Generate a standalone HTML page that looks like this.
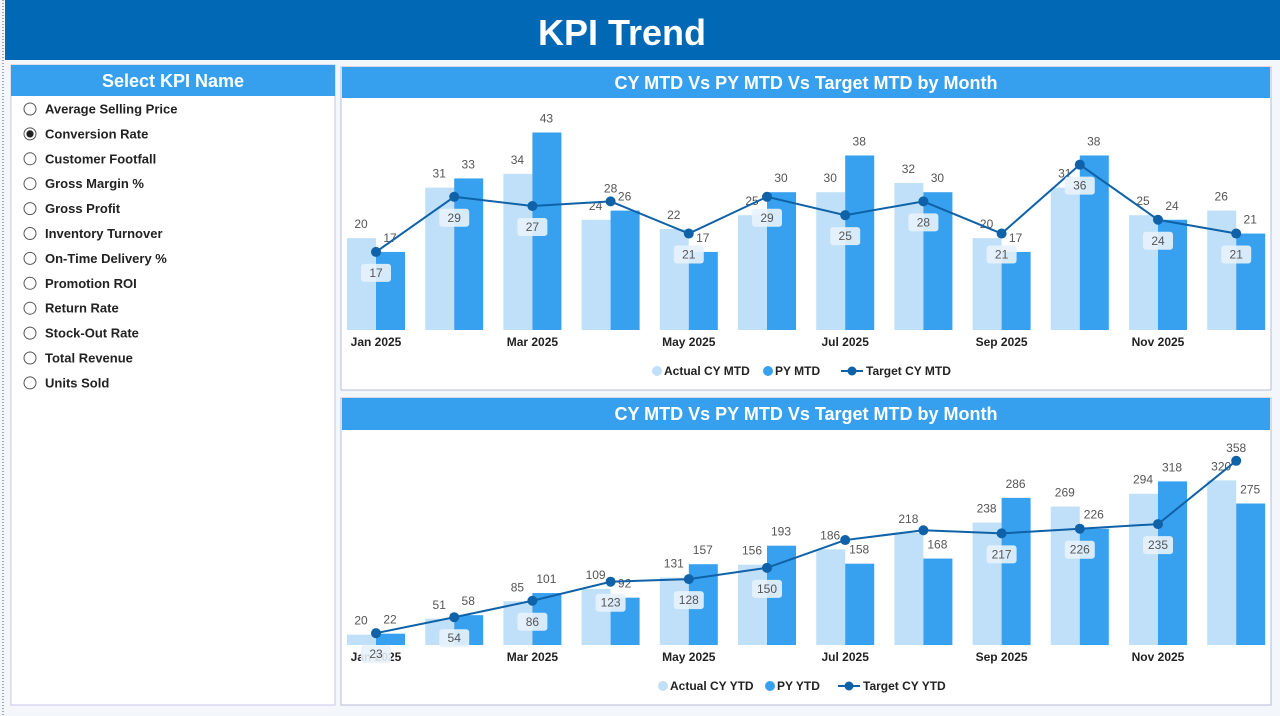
<!DOCTYPE html>
<html><head><meta charset="utf-8"><style>
html,body{margin:0;padding:0;background:#f3f6fb;}
svg{display:block;font-family:"Liberation Sans",sans-serif;}
</style></head><body>
<svg id="s" width="1280" height="716" viewBox="0 0 1280 716" xmlns="http://www.w3.org/2000/svg">
<rect width="1280" height="716" fill="#f3f6fb"/>
<rect x="5" y="0" width="1275" height="60" fill="#0068b5"/>
<line x1="3" y1="0" x2="3" y2="716" stroke="#555" stroke-dasharray="1,2"/>
<text x="622" y="45" text-anchor="middle" font-size="36" font-weight="bold" fill="#fff">KPI Trend</text>
<rect x="11" y="65" width="324" height="640" fill="#fff" stroke="#c9c6ea"/>
<rect x="11" y="65" width="324" height="31" fill="#36a0ee"/>
<text x="173" y="87" text-anchor="middle" font-size="18" font-weight="bold" fill="#fff">Select KPI Name</text>
<g id="radios"></g>
<rect x="341" y="67" width="930" height="323" fill="#fff" stroke="#b9b9d6"/>
<rect x="342" y="67" width="928" height="31" fill="#36a0ee"/>
<text x="806" y="89" text-anchor="middle" font-size="18" font-weight="bold" fill="#fff">CY MTD Vs PY MTD Vs Target MTD by Month</text>
<rect x="341" y="398" width="930" height="307" fill="#fff" stroke="#b9b9d6"/>
<rect x="342" y="398" width="928" height="32" fill="#36a0ee"/>
<text x="806" y="420" text-anchor="middle" font-size="18" font-weight="bold" fill="#fff">CY MTD Vs PY MTD Vs Target MTD by Month</text>
<g id="c1"></g><g id="c2"></g>
</svg>
<script>
var NS="http://www.w3.org/2000/svg";
function el(p,t,a,txt){var e=document.createElementNS(NS,t);for(var k in a)e.setAttribute(k,a[k]);if(txt!==undefined)e.textContent=txt;p.appendChild(e);return e;}
var items=["Average Selling Price","Conversion Rate","Customer Footfall","Gross Margin %","Gross Profit","Inventory Turnover","On-Time Delivery %","Promotion ROI","Return Rate","Stock-Out Rate","Total Revenue","Units Sold"];
var R=document.getElementById("radios");
items.forEach(function(t,i){var y=109+i*24.9;
el(R,"circle",{cx:30,cy:y,r:6,fill:"#fff",stroke:"#555","stroke-width":1});
if(i==1)el(R,"circle",{cx:30,cy:y,r:3.6,fill:"#222"});
el(R,"text",{x:45,y:y+4.5,"font-size":13,"font-weight":"bold",fill:"#222"},t);});
var months=["Jan 2025","","Mar 2025","","May 2025","","Jul 2025","","Sep 2025","","Nov 2025",""];
function chart(id,base,scale,data,leg,legY,above,hide){
var g=document.getElementById(id);var pts=[];
data.forEach(function(d,i){var x=347+i*78.2;
var ha=d[0]*scale,hp=d[1]*scale;
el(g,"rect",{x:x,y:base-ha,width:29,height:ha,fill:"#bfe0f8"});
el(g,"rect",{x:x+29,y:base-hp,width:29,height:hp,fill:"#37a0ef"});
el(g,"text",{x:x+14,y:base-ha-10,"text-anchor":"middle","font-size":12,fill:"#555"},d[0]);
el(g,"text",{x:x+43,y:base-hp-10,"text-anchor":"middle","font-size":12,fill:"#555"},d[1]);
pts.push([x+29,base-d[2]*scale,d[2],i]);
if(months[i])el(g,"text",{x:x+29,y:base+16,"text-anchor":"middle","font-size":12,"font-weight":"bold",fill:"#222"},months[i]);});
el(g,"polyline",{points:pts.map(function(p){return p[0]+","+p[1]}).join(" "),fill:"none",stroke:"#0f62a8","stroke-width":2});
pts.forEach(function(p){el(g,"circle",{cx:p[0],cy:p[1],r:5,fill:"#0f62a8"});
if(hide.indexOf(p[3])>=0)return;
if(above.indexOf(p[3])>=0){el(g,"text",{x:p[0],y:p[1]-9,"text-anchor":"middle","font-size":12,fill:"#555"},p[2]);return;}
el(g,"rect",{x:p[0]-15,y:p[1]+12,width:30,height:18,rx:3,fill:"#e8f2fb",opacity:0.9});
el(g,"text",{x:p[0],y:p[1]+25,"text-anchor":"middle","font-size":12,fill:"#555"},p[2]);});
var lx=leg[0];
el(g,"circle",{cx:lx,cy:legY-4,r:5,fill:"#bfe0f8"});
el(g,"text",{x:lx+7,y:legY,"font-size":12,"font-weight":"bold",fill:"#222"},leg[1]);
el(g,"circle",{cx:leg[2],cy:legY-4,r:5,fill:"#37a0ef"});
el(g,"text",{x:leg[2]+7,y:legY,"font-size":12,"font-weight":"bold",fill:"#222"},leg[3]);
el(g,"line",{x1:leg[4],y1:legY-4,x2:leg[4]+22,y2:legY-4,stroke:"#0f62a8","stroke-width":2});
el(g,"circle",{cx:leg[4]+11,cy:legY-4,r:4.5,fill:"#0f62a8"});
el(g,"text",{x:leg[4]+25,y:legY,"font-size":12,"font-weight":"bold",fill:"#222"},leg[5]);}
chart("c1",330,4.593,[[20,17,17],[31,33,29],[34,43,27],[24,26,28],[22,17,21],[25,30,29],[30,38,25],[32,30,28],[20,17,21],[31,38,36],[25,24,24],[26,21,21]],
[657,"Actual CY MTD",768,"PY MTD",841,"Target CY MTD"],375,[3],[]);
chart("c2",645,0.5145,[[20,22,23],[51,58,54],[85,101,86],[109,92,123],[131,157,128],[156,193,150],[186,158,204],[218,168,223],[238,286,217],[269,226,226],[294,318,235],[320,275,358]],
[663,"Actual CY YTD",770,"PY YTD",838,"Target CY YTD"],690,[11],[6,7]);
</script>
</body></html>
